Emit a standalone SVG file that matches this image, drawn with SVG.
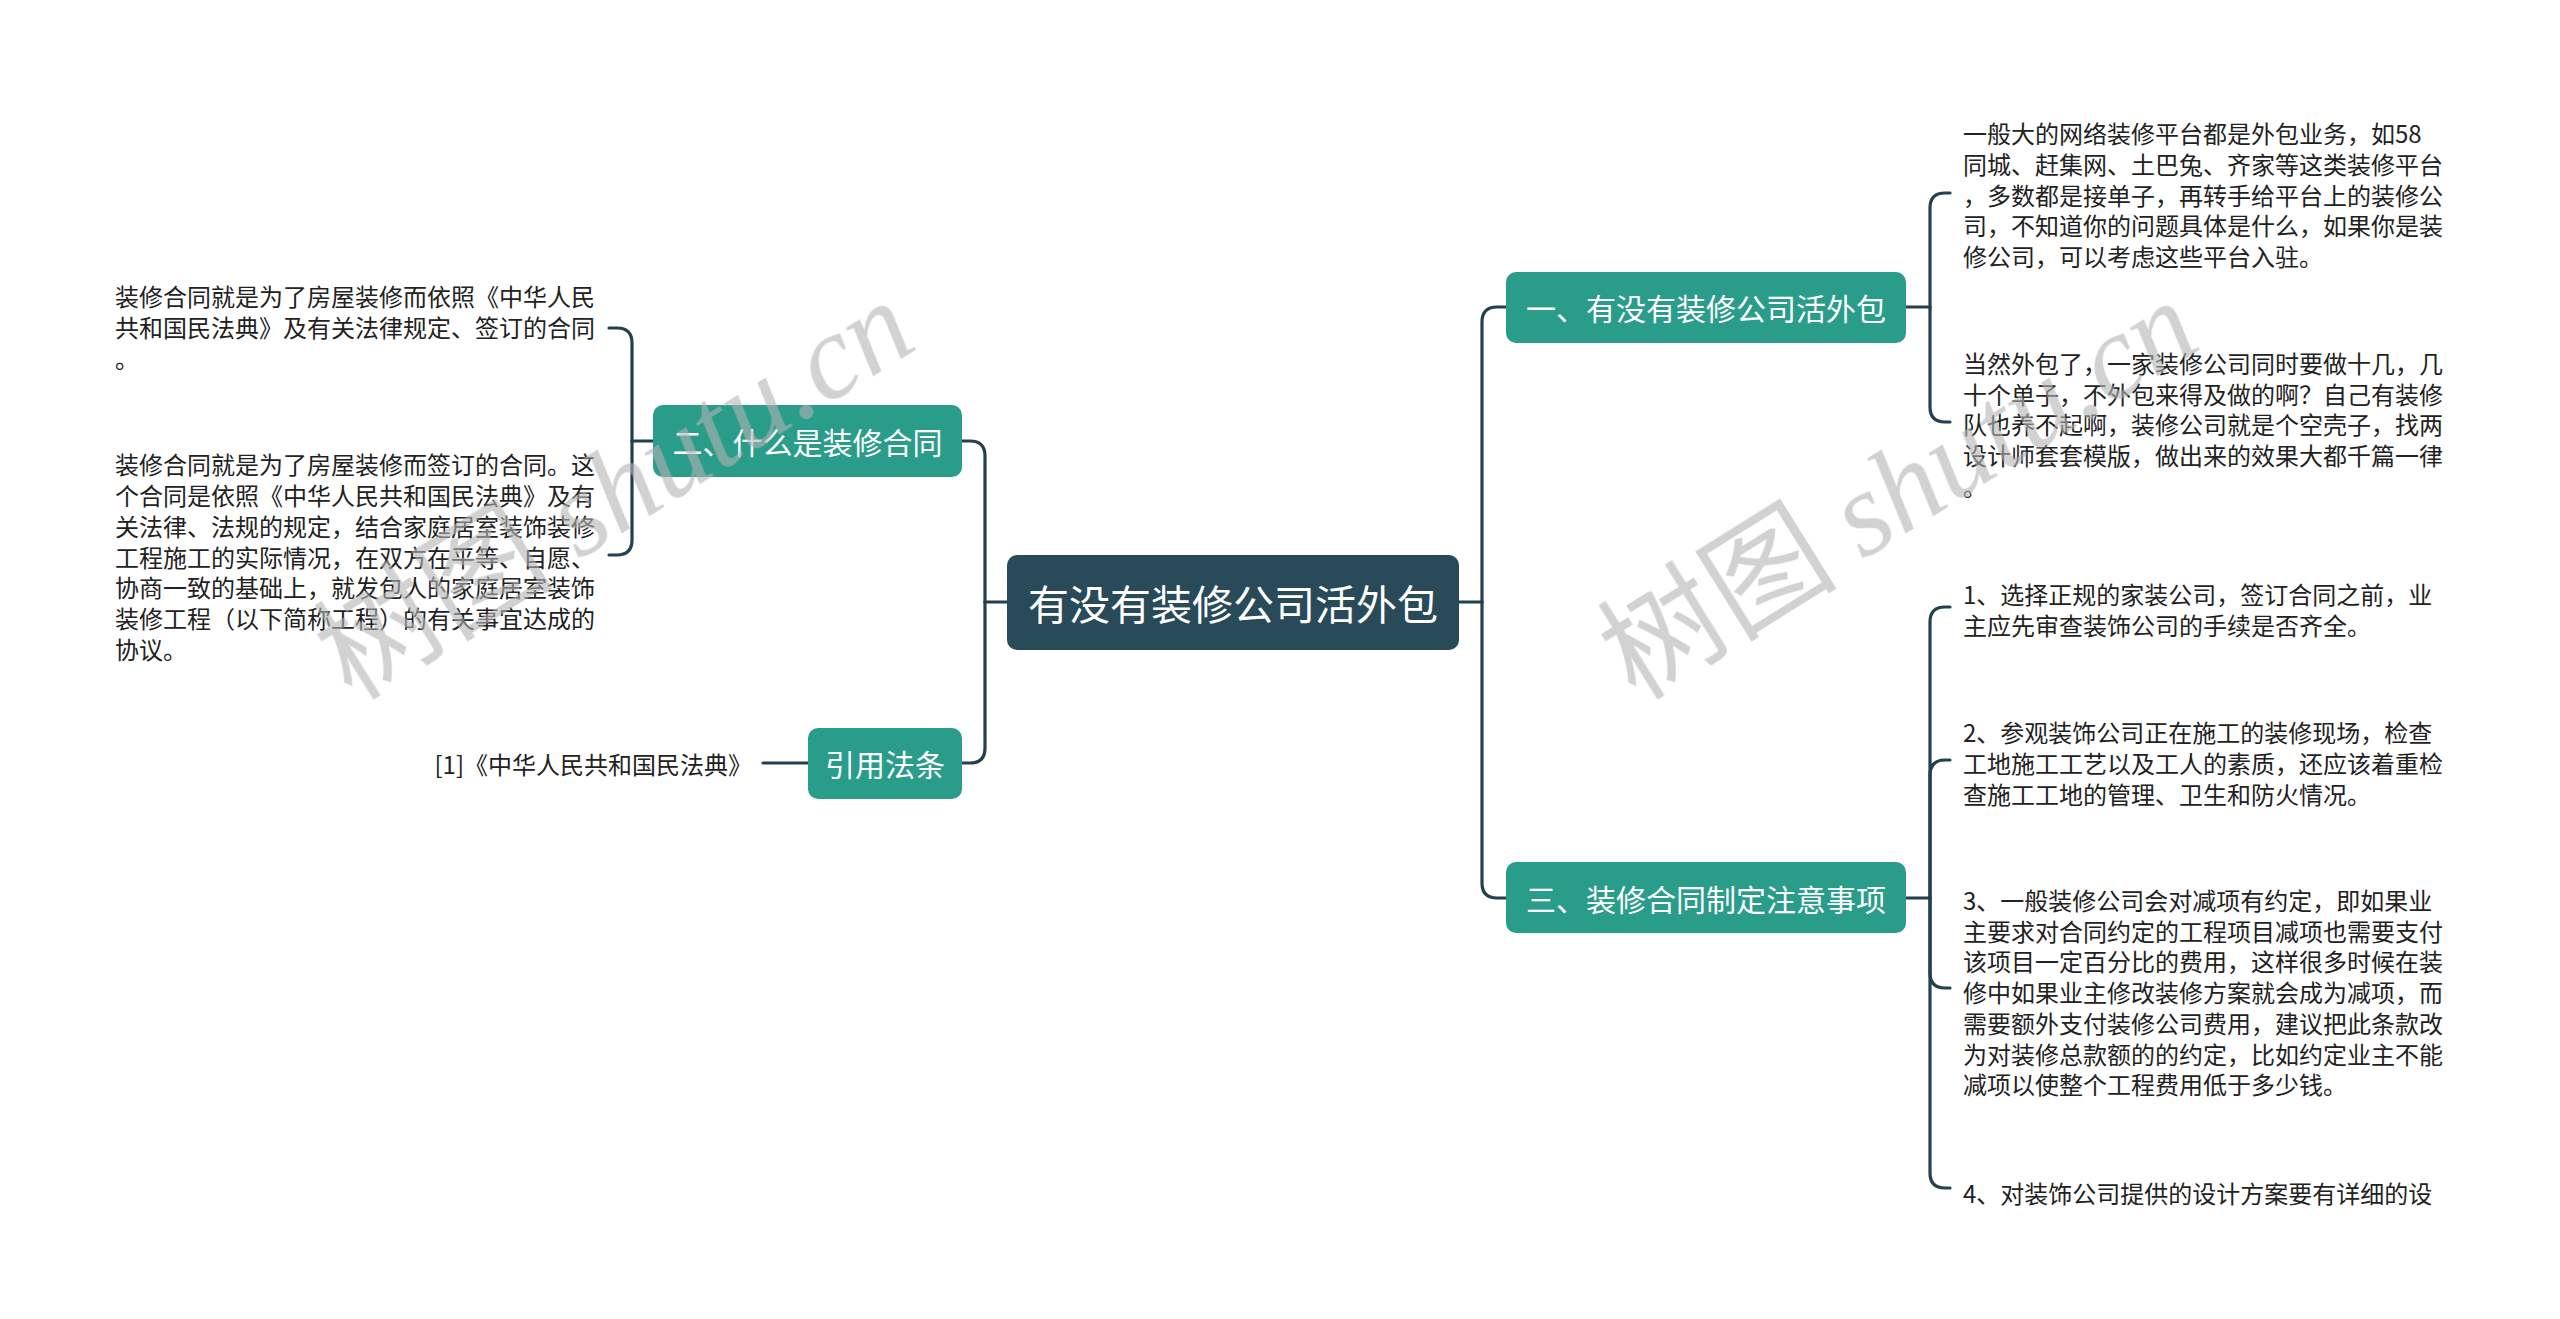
<svg xmlns="http://www.w3.org/2000/svg" width="2560" height="1319" viewBox="0 0 2560 1319">
<style>
.bg{fill:#ffffff}
.con{fill:none;stroke:#23404e;stroke-width:3.2;stroke-linecap:round}
.root rect{fill:#284a59}
.main rect{fill:#2a9c8a}
.nt{fill:#ffffff;font-family:"Noto Sans CJK SC","Noto Sans",sans-serif;text-anchor:middle;dominant-baseline:central}
.leaf{fill:#222222;font-family:"Noto Sans CJK SC","Noto Sans",sans-serif;font-size:24px;dominant-baseline:central}
.wm{fill:#b4b4b4;opacity:0.6}
</style>
<rect class="bg" x="0" y="0" width="2560" height="1319"/>

<g id="connectors">
  <path class="con" d="M1007 602 H985"/>
  <path class="con" d="M985 602 V456 Q985 441 970 441 H962"/>
  <path class="con" d="M985 602 V748 Q985 763 970 763 H962"/>
  <path class="con" d="M1459 602 H1482"/>
  <path class="con" d="M1482 602 V322 Q1482 307 1497 307 H1506"/>
  <path class="con" d="M1482 602 V883 Q1482 898 1497 898 H1506"/>
  <path class="con" d="M653 441 H632"/>
  <path class="con" d="M632 441 V343 Q632 328 617 328 H609"/>
  <path class="con" d="M632 441 V540 Q632 555 617 555 H609"/>
  <path class="con" d="M808 763 H763"/>
  <path class="con" d="M1906 307 H1930"/>
  <path class="con" d="M1930 307 V208 Q1930 193 1945 193 H1950"/>
  <path class="con" d="M1930 307 V407 Q1930 422 1945 422 H1950"/>
  <path class="con" d="M1906 898 H1930"/>
  <path class="con" d="M1930 898 V622 Q1930 607 1945 607 H1950"/>
  <path class="con" d="M1930 898 V775 Q1930 760 1945 760 H1950"/>
  <path class="con" d="M1930 898 V973 Q1930 988 1945 988 H1950"/>
  <path class="con" d="M1930 898 V1173 Q1930 1188 1945 1188 H1950"/>
</g>

<g id="root" class="root">
  <rect x="1007" y="555" width="452" height="95" rx="10"/>
  <text class="nt" x="1233" y="602" font-size="41">有没有装修公司活外包</text>
</g>

<g id="b1" class="main">
  <rect x="1506" y="272" width="400" height="71" rx="10"/>
  <text class="nt" x="1706" y="307" font-size="30">一、有没有装修公司活外包</text>
</g>
<g id="b3" class="main">
  <rect x="1506" y="862" width="400" height="71" rx="10"/>
  <text class="nt" x="1706" y="898" font-size="30">三、装修合同制定注意事项</text>
</g>
<g id="b2" class="main">
  <rect x="653" y="405" width="309" height="72" rx="10"/>
  <text class="nt" x="807.5" y="441" font-size="30">二、什么是装修合同</text>
</g>
<g id="b4" class="main">
  <rect x="808" y="728" width="154" height="71" rx="10"/>
  <text class="nt" x="885" y="763" font-size="30">引用法条</text>
</g>

<g id="l2a">
  <text class="leaf">
    <tspan x="115" y="295">装修合同就是为了房屋装修而依照《中华人民</tspan>
    <tspan x="115" y="326">共和国民法典》及有关法律规定、签订的合同</tspan>
    <tspan x="115" y="357">。</tspan>
  </text>
</g>
<g id="l2b">
  <text class="leaf">
    <tspan x="115" y="463">装修合同就是为了房屋装修而签订的合同。这</tspan>
    <tspan x="115" y="494">个合同是依照《中华人民共和国民法典》及有</tspan>
    <tspan x="115" y="525">关法律、法规的规定，结合家庭居室装饰装修</tspan>
    <tspan x="115" y="556">工程施工的实际情况，在双方在平等、自愿、</tspan>
    <tspan x="115" y="586">协商一致的基础上，就发包人的家庭居室装饰</tspan>
    <tspan x="115" y="617">装修工程（以下简称工程）的有关事宜达成的</tspan>
    <tspan x="115" y="648">协议。</tspan>
  </text>
</g>
<g id="l4a">
  <text class="leaf" x="752" y="763" text-anchor="end">[1]《中华人民共和国民法典》</text>
</g>

<g id="l1a">
  <text class="leaf">
    <tspan x="1963" y="132">一般大的网络装修平台都是外包业务，如58</tspan>
    <tspan x="1963" y="163">同城、赶集网、土巴兔、齐家等这类装修平台</tspan>
    <tspan x="1963" y="194">，多数都是接单子，再转手给平台上的装修公</tspan>
    <tspan x="1963" y="224">司，不知道你的问题具体是什么，如果你是装</tspan>
    <tspan x="1963" y="255">修公司，可以考虑这些平台入驻。</tspan>
  </text>
</g>
<g id="l1b">
  <text class="leaf">
    <tspan x="1963" y="362">当然外包了，一家装修公司同时要做十几，几</tspan>
    <tspan x="1963" y="393">十个单子，不外包来得及做的啊？自己有装修</tspan>
    <tspan x="1963" y="423">队也养不起啊，装修公司就是个空壳子，找两</tspan>
    <tspan x="1963" y="454">设计师套套模版，做出来的效果大都千篇一律</tspan>
    <tspan x="1963" y="485">。</tspan>
  </text>
</g>
<g id="l3a">
  <text class="leaf">
    <tspan x="1963" y="593">1、选择正规的家装公司，签订合同之前，业</tspan>
    <tspan x="1963" y="624">主应先审查装饰公司的手续是否齐全。</tspan>
  </text>
</g>
<g id="l3b">
  <text class="leaf">
    <tspan x="1963" y="731">2、参观装饰公司正在施工的装修现场，检查</tspan>
    <tspan x="1963" y="762">工地施工工艺以及工人的素质，还应该着重检</tspan>
    <tspan x="1963" y="793">查施工工地的管理、卫生和防火情况。</tspan>
  </text>
</g>
<g id="l3c">
  <text class="leaf">
    <tspan x="1963" y="899">3、一般装修公司会对减项有约定，即如果业</tspan>
    <tspan x="1963" y="930">主要求对合同约定的工程项目减项也需要支付</tspan>
    <tspan x="1963" y="960">该项目一定百分比的费用，这样很多时候在装</tspan>
    <tspan x="1963" y="991">修中如果业主修改装修方案就会成为减项，而</tspan>
    <tspan x="1963" y="1022">需要额外支付装修公司费用，建议把此条款改</tspan>
    <tspan x="1963" y="1053">为对装修总款额的的约定，比如约定业主不能</tspan>
    <tspan x="1963" y="1083">减项以使整个工程费用低于多少钱。</tspan>
  </text>
</g>
<g id="l3d">
  <text class="leaf">
    <tspan x="1963" y="1192">4、对装饰公司提供的设计方案要有详细的设</tspan>
  </text>
</g>

<g id="watermarks" class="wm">
  <text transform="translate(352,702) rotate(-32)" font-size="120"><tspan font-family="'Noto Sans CJK SC',sans-serif">树图 </tspan><tspan font-family="'Liberation Serif',serif" font-style="italic">shutu.cn</tspan></text>
  <text transform="translate(1636,702) rotate(-32)" font-size="120"><tspan font-family="'Noto Sans CJK SC',sans-serif">树图 </tspan><tspan font-family="'Liberation Serif',serif" font-style="italic">shutu.cn</tspan></text>
</g>
</svg>
